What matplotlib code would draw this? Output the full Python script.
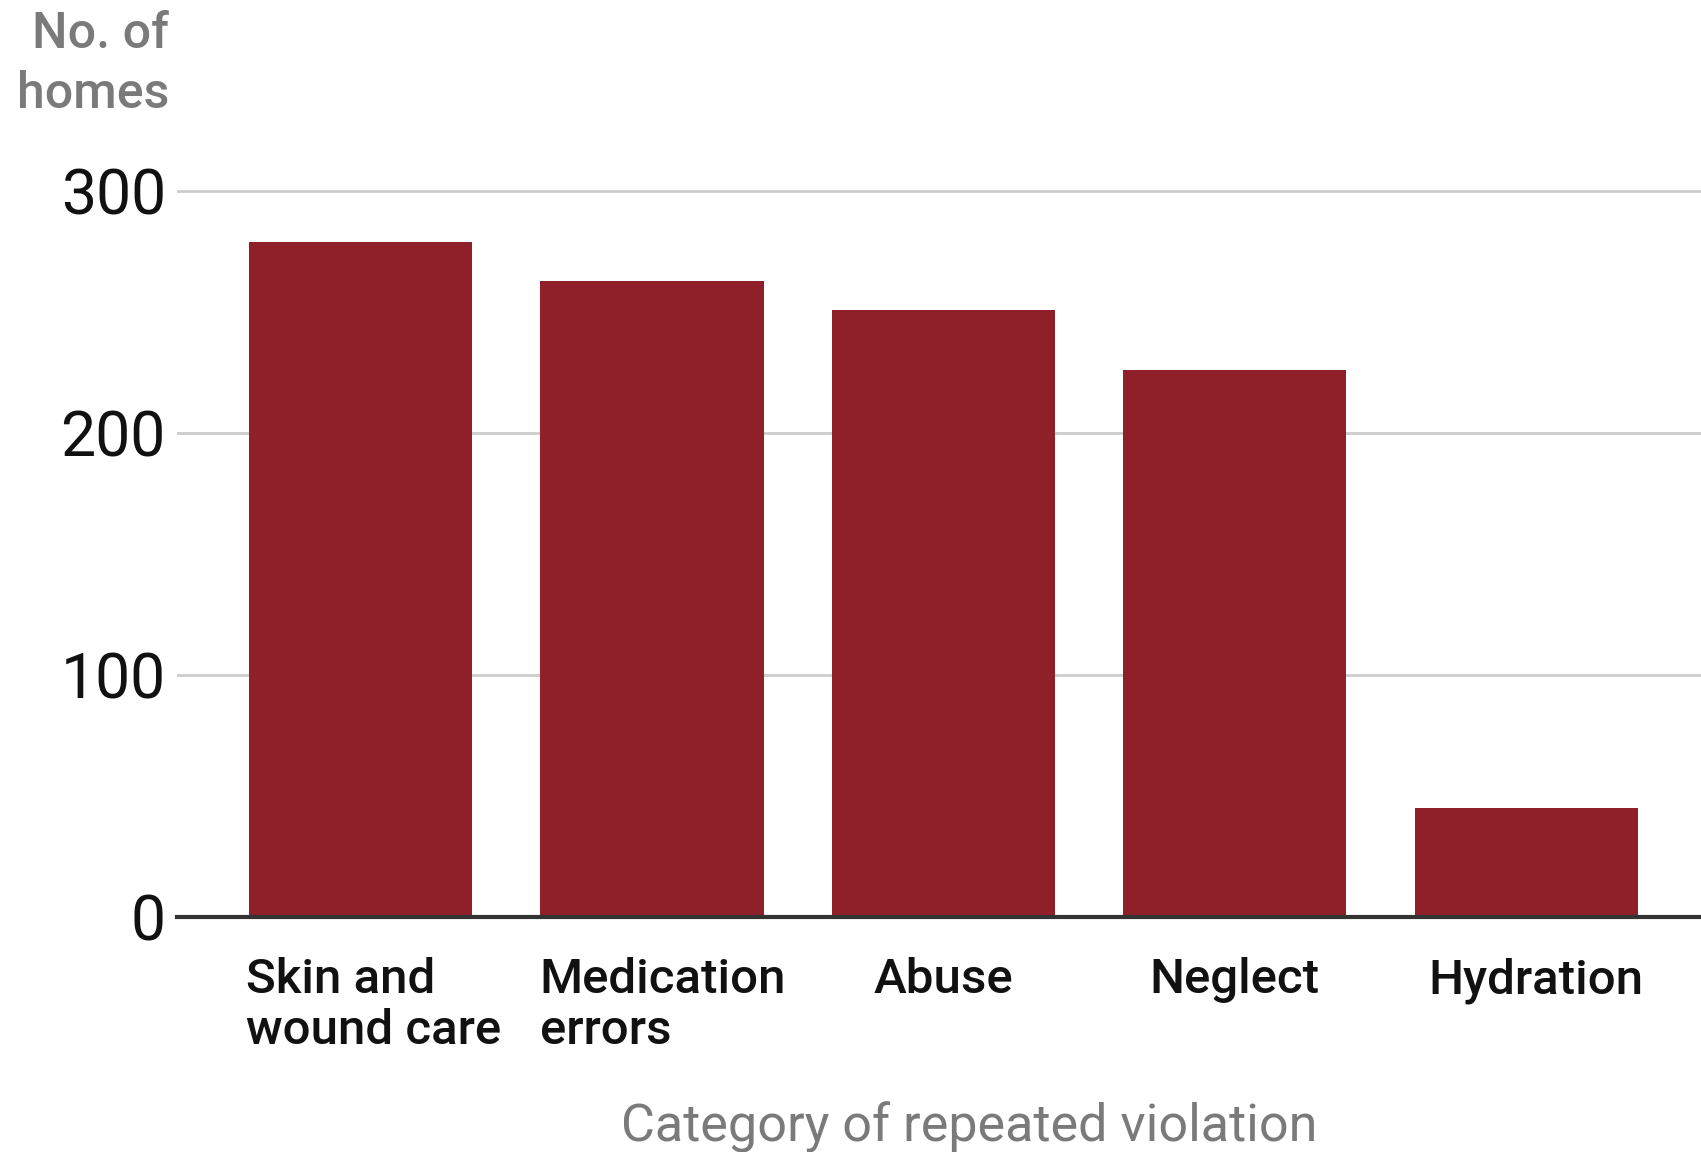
import matplotlib
matplotlib.use("Agg")
import matplotlib.pyplot as plt
from matplotlib.transforms import ScaledTranslation

categories = ["Skin and\nwound care", "Medication\nerrors", "Abuse", "Neglect", "Hydration"]
homes = [279, 263, 251, 226, 45]
yticks = [0, 100, 200, 300]

BAR = "#8f1f28"

fig = plt.figure(figsize=(17.01, 11.52), dpi=100)
ax = fig.add_axes([0.104, 0.204, 0.896, 0.634])

x = list(range(len(categories)))
ax.bar(x, homes, width=0.766, color=BAR, zorder=3)

ax.set_xlim(-0.63, 4.6)
ax.set_ylim(0, 302)
ax.set_yticks(yticks)
ax.set_yticklabels([str(v) for v in yticks], fontfamily="Roboto", fontsize=45, color="#111111")
ax.yaxis.grid(True, color="#cccccc", linewidth=2.0, zorder=0)
ax.set_axisbelow(True)
ax.tick_params(axis="y", length=0, pad=8)
ax.tick_params(axis="x", length=0, pad=29)

ax.set_xticks(x)
ax.set_xticklabels(categories, fontfamily="Roboto", fontweight="medium", fontsize=35.5,
                   color="#111111", linespacing=1.12, multialignment="left")
# slight right shift of labels, as in the reference layout
shifts = [0.13, 0.11, 0.0, 0.0, 0.10]
for lbl, dx in zip(ax.get_xticklabels(), shifts):
    lbl.set_transform(lbl.get_transform() + ScaledTranslation(dx, 0, fig.dpi_scale_trans))

for s in ["top", "right", "left"]:
    ax.spines[s].set_visible(False)
ax.spines["bottom"].set_color("#333333")
ax.spines["bottom"].set_linewidth(3)
ax.spines["bottom"].set_zorder(4)

fig.text(0.0995, 0.991, "No. of\nhomes", ha="right", va="top", multialignment="right",
         fontfamily="Roboto", fontweight="medium", fontsize=36, color="#7a7a7a", linespacing=1.3)
fig.text(0.570, 0.021, "Category of repeated violation", ha="center", va="center",
         fontfamily="Roboto", fontsize=37.5, color="#7a7a7a")

fig.savefig("out.png", dpi=100, facecolor="white")
